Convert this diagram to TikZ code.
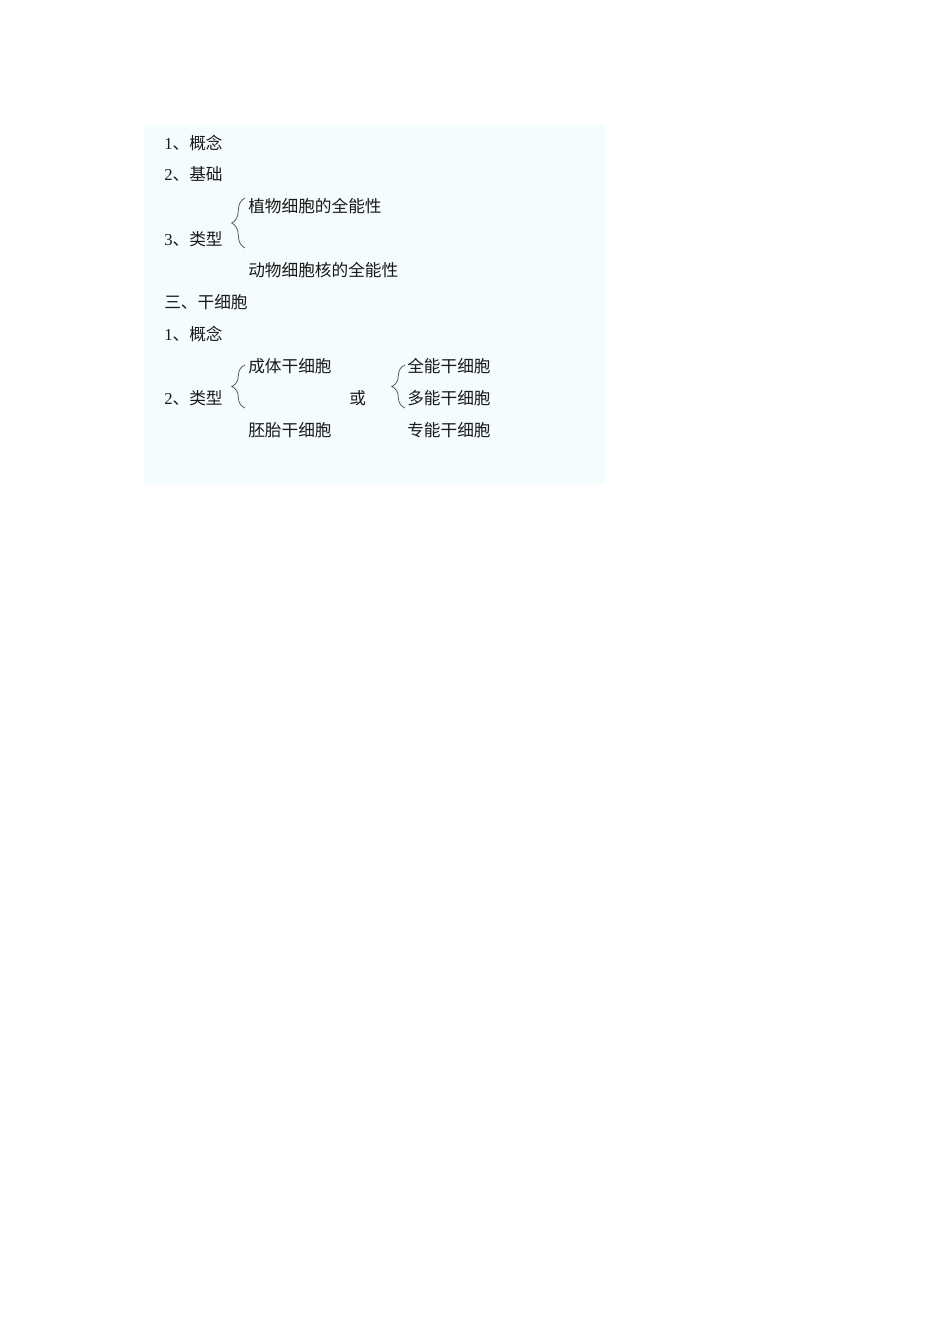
\documentclass[tikz,border=0pt]{standalone}
\usepackage{fontspec}
\setmainfont{Liberation Serif}
\newfontfamily\cjk{Noto Sans CJK SC}
\usetikzlibrary{decorations.pathreplacing}

\definecolor{panelcyan}{RGB}{245,252,253}
\definecolor{txtgray}{RGB}{25,25,25}
\definecolor{bracegray}{RGB}{90,90,90}

\tikzset{
  line/.style={anchor=west, inner sep=0pt, text=txtgray, font=\fontsize{12.5}{15}\selectfont\cjk},
  bracket/.style={draw=bracegray, line width=0.6pt, decorate, decoration={brace, amplitude=10pt}}
}

\begin{document}
\begin{tikzpicture}[x=0.75pt, y=-0.75pt]
                    \useasboundingbox (0,0) rectangle (950,1344);
                    \fill[panelcyan] (144,125) rectangle (605,485);
                    % section two
                    \node[line] (gn1) at (164,143) {{\rmfamily 1}、概念};
                    \node[line] (gn2) at (164,174) {{\rmfamily 2}、基础};
                    \node[line] (gn3) at (164,239) {{\rmfamily 3}、类型};
                    \node[line] (plant) at (248,206) {植物细胞的全能性};
                    \node[line] (animal) at (248,270) {动物细胞核的全能性};
                    \coordinate (gtop) at (245,198);
                    \coordinate (gbot) at (245,248);
                    \draw[bracket] (gbot) -- (gtop);
                    % section three
                    \node[line] (stem) at (164,302) {三、干细胞};
                    \node[line] (sn1) at (164,334) {{\rmfamily 1}、概念};
                    \node[line] (sn2) at (164,398) {{\rmfamily 2}、类型};
                    \node[line] (adult) at (248,366) {成体干细胞};
                    \node[line] (embryo) at (248,430) {胚胎干细胞};
                    \node[line] (either) at (349,398) {或};
                    \node[line] (toti) at (407,366) {全能干细胞};
                    \node[line] (pluri) at (407,398) {多能干细胞};
                    \node[line] (uni) at (407,430) {专能干细胞};
                    \coordinate (atop) at (245,365);
                    \coordinate (abot) at (245,408);
                    \draw[bracket] (abot) -- (atop);
                    \coordinate (ptop) at (405,365);
                    \coordinate (pbot) at (405,408);
                    \draw[bracket] (pbot) -- (ptop);
                \end{tikzpicture}
\end{document}
